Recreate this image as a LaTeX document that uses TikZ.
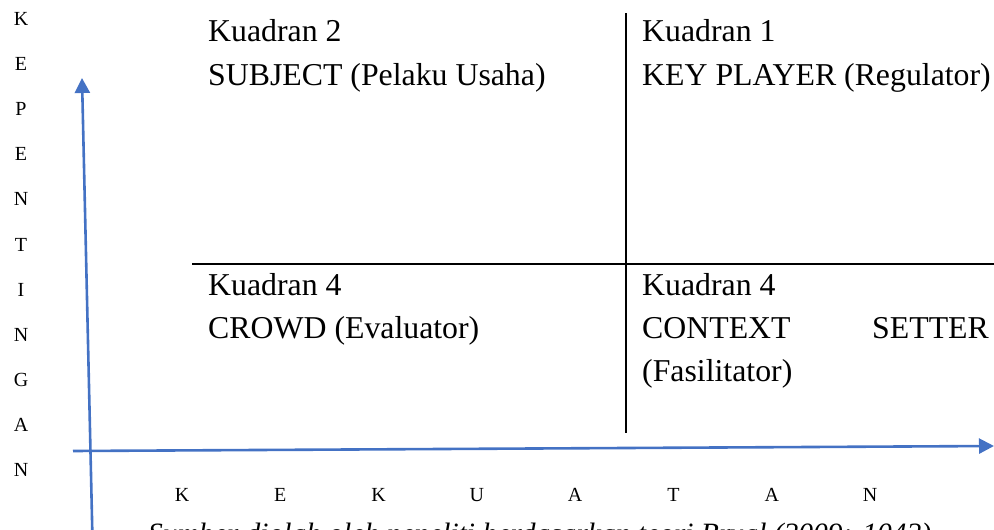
\documentclass[tikz,border=0pt]{standalone}
\usepackage{fontspec}
\setmainfont{Liberation Serif}
\usetikzlibrary{arrows.meta}
\definecolor{axisblue}{RGB}{68,114,196}
\begin{document}
\begin{tikzpicture}[x=1pt,y=-1pt,
  axis/.style={draw=axisblue,line width=2.6pt,-{Triangle[length=15pt,width=15pt]}},
  divider/.style={draw=black,line width=1.6pt},
  quad/.style={anchor=base west,inner sep=0pt,font=\fontsize{31.8}{38}\selectfont},
  letter/.style={anchor=center,inner sep=0pt,font=\fontsize{20}{24}\selectfont},
  caption/.style={anchor=base west,inner sep=0pt,font=\fontsize{29.5}{35}\selectfont\itshape}]
\useasboundingbox (0,0) rectangle (994,530);
% dividers
\coordinate (vtop) at (626,13);
\coordinate (vbot) at (626,433);
\coordinate (hleft) at (192,264);
\coordinate (hright) at (994,264);
\draw[divider] (vtop) -- (vbot);
\draw[divider] (hleft) -- (hright);
% axes
\coordinate (ybot) at (92.5,540);
\coordinate (ytop) at (82,78);
\coordinate (xleft) at (73,451);
\coordinate (xright) at (994,446);
\draw[axis] (ybot) -- (ytop);
\draw[axis] (xleft) -- (xright);
% quadrant texts
\node[quad] (q2a) at (208,41) {Kuadran 2};
\node[quad] (q2b) at (208,85) {SUBJECT (Pelaku Usaha)};
\node[quad] (q1a) at (642,41) {Kuadran 1};
\node[quad] (q1b) at (642,85) {KEY PLAYER (Regulator)};
\node[quad] (q4a) at (208,295) {Kuadran 4};
\node[quad] (q4b) at (208,338) {CROWD (Evaluator)};
\node[quad] (q3a) at (642,295) {Kuadran 4};
\node[quad] (q3b) at (642,338) {CONTEXT};
\node[quad,anchor=base east] (q3c) at (989,338) {SETTER};
\node[quad] (q3d) at (642,381) {(Fasilitator)};
% vertical label
\foreach \ch [count=\i from 0] in {K,E,P,E,N,T,I,N,G,A,N}
  \node[letter] (v\i) at (21,{19+\i*45.1}) {\ch};
% horizontal label
\foreach \ch [count=\i from 0] in {K,E,K,U,A,T,A,N}
  \node[letter] (h\i) at ({182+\i*98.3},495) {\ch};
% caption (cut off at the bottom edge, as in the reference)
\node[caption] (cap) at (148,543) {Sumber diolah oleh peneliti berdasarkan teori Bryal (2009: 1042)};
\end{tikzpicture}
\end{document}
